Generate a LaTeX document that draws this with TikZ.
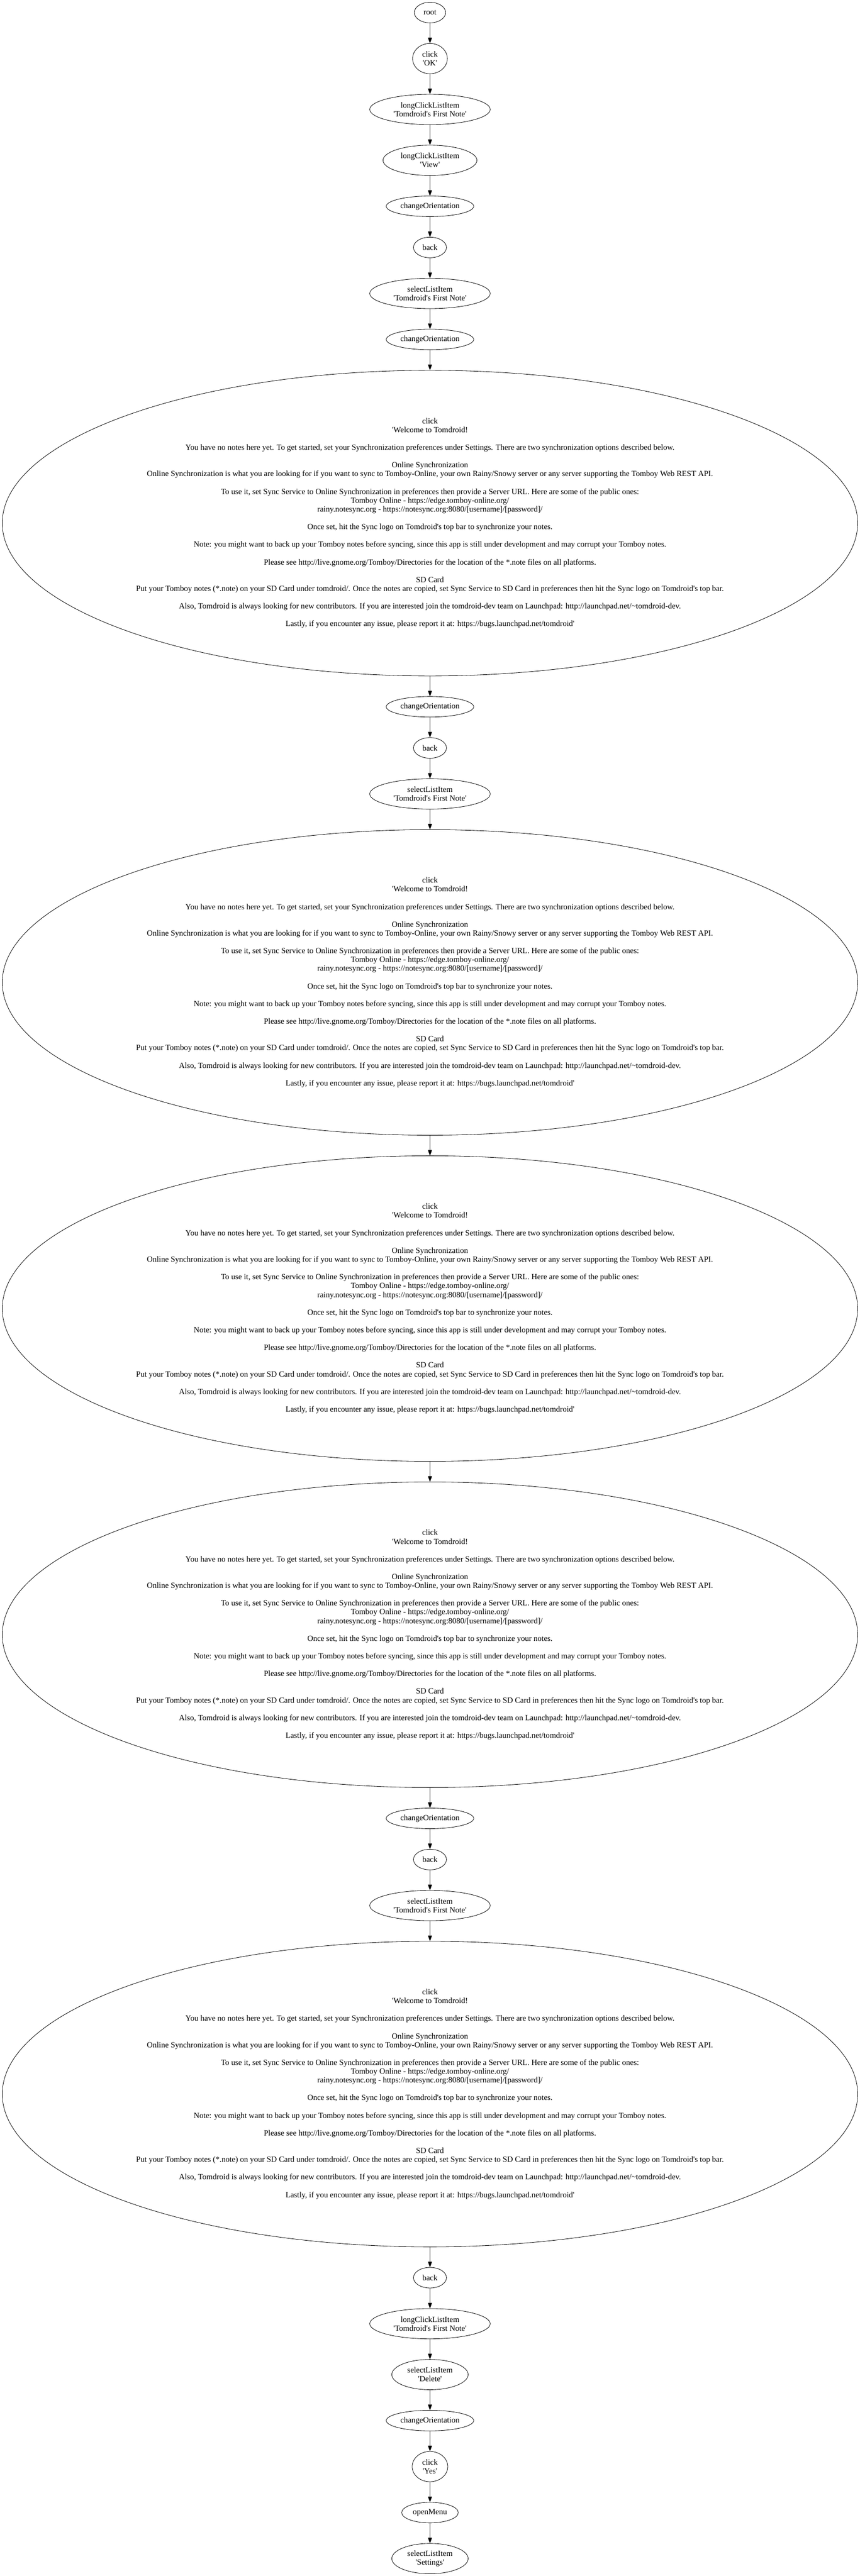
\documentclass[tikz,border=0pt]{standalone}
\usepackage{fontspec}
\setmainfont{Liberation Serif}
\usetikzlibrary{shapes.geometric,positioning,arrows.meta}
\newcommand{\sq}{\textquotesingle}
\newcommand{\gvfont}{\fontsize{14pt}{15.43pt}\selectfont}
\newcommand{\welcome}{click\\
\sq Welcome to Tomdroid!\\[15.43pt]
You have no notes here yet. To get started, set your Synchronization preferences under Settings. There are two synchronization options described below.\\[15.43pt]
Online Synchronization\\
Online Synchronization is what you are looking for if you want to sync to Tomboy-Online, your own Rainy/Snowy server or any server supporting the Tomboy Web REST API.\\[15.43pt]
To use it, set Sync Service to Online Synchronization in preferences then provide a Server URL. Here are some of the public ones:\\
Tomboy Online - https://edge.tomboy-online.org/\\
rainy.notesync.org - https://notesync.org:8080/[username]/[password]/\\[15.43pt]
Once set, hit the Sync logo on Tomdroid\sq s top bar to synchronize your notes.\\[15.43pt]
Note: you might want to back up your Tomboy notes before syncing, since this app is still under development and may corrupt your Tomboy notes.\\[15.43pt]
Please see http://live.gnome.org/Tomboy/Directories for the location of the *.note files on all platforms.\\[15.43pt]
SD Card\\
Put your Tomboy notes (*.note) on your SD Card under tomdroid/. Once the notes are copied, set Sync Service to SD Card in preferences then hit the Sync logo on Tomdroid\sq s top bar.\\[15.43pt]
Also, Tomdroid is always looking for new contributors. If you are interested join the tomdroid-dev team on Launchpad: http://launchpad.net/\textasciitilde tomdroid-dev.\\[15.43pt]
Lastly, if you encounter any issue, please report it at: https://bugs.launchpad.net/tomdroid\sq}
\begin{document}
\begin{tikzpicture}[
  nd/.style={ellipse, draw, line width=0.75pt, inner sep=-400pt, outer sep=0pt, align=center, font=\gvfont},
  one/.style={nd, minimum height=36pt},
  two/.style={nd, minimum height=53pt},
  big/.style={nd, minimum width=1496.5pt, minimum height=534.7pt},
  node distance=36pt,
  edge/.style={-{Triangle[length=10pt,width=7pt]}, line width=0.75pt}
]
\useasboundingbox (0,0) rectangle (1504.5pt,-4507.5pt);
\node[one, minimum width=54.75pt] (n1) at (752.25pt,-22pt) {root};
\node[two, minimum width=60.75pt, below=of n1] (n2) {click\\\sq OK\sq};
\node[two, minimum width=210.75pt, below=of n2] (n3) {longClickListItem\\\sq Tomdroid\sq s First Note\sq};
\node[two, minimum width=164.25pt, below=of n3] (n4) {longClickListItem\\\sq View\sq};
\node[one, minimum width=153pt, below=of n4] (n5) {changeOrientation};
\node[one, minimum width=57.75pt, below=of n5] (n6) {back};
\node[two, minimum width=210.75pt, below=of n6] (n7) {selectListItem\\\sq Tomdroid\sq s First Note\sq};
\node[one, minimum width=153pt, below=of n7] (n8) {changeOrientation};
\node[big, below=of n8] (n9) {\welcome};
\node[one, minimum width=153pt, below=of n9] (n10) {changeOrientation};
\node[one, minimum width=57.75pt, below=of n10] (n11) {back};
\node[two, minimum width=210.75pt, below=of n11] (n12) {selectListItem\\\sq Tomdroid\sq s First Note\sq};
\node[big, below=of n12] (n13) {\welcome};
\node[big, below=of n13] (n14) {\welcome};
\node[big, below=of n14] (n15) {\welcome};
\node[one, minimum width=153pt, below=of n15] (n16) {changeOrientation};
\node[one, minimum width=57.75pt, below=of n16] (n17) {back};
\node[two, minimum width=210.75pt, below=of n17] (n18) {selectListItem\\\sq Tomdroid\sq s First Note\sq};
\node[big, below=of n18] (n19) {\welcome};
\node[one, minimum width=57.75pt, below=of n19] (n20) {back};
\node[two, minimum width=210.75pt, below=of n20] (n21) {longClickListItem\\\sq Tomdroid\sq s First Note\sq};
\node[two, minimum width=133.5pt, below=of n21] (n22) {selectListItem\\\sq Delete\sq};
\node[one, minimum width=153pt, below=of n22] (n23) {changeOrientation};
\node[two, minimum width=62.25pt, below=of n23] (n24) {click\\\sq Yes\sq};
\node[one, minimum width=99pt, below=of n24] (n25) {openMenu};
\node[two, minimum width=133.5pt, below=of n25] (n26) {selectListItem\\\sq Settings\sq};
\foreach \a/\b in {1/2,2/3,3/4,4/5,5/6,6/7,7/8,8/9,9/10,10/11,11/12,12/13,13/14,14/15,15/16,16/17,17/18,18/19,19/20,20/21,21/22,22/23,23/24,24/25,25/26}
  \draw[edge] (n\a) -- (n\b);
\end{tikzpicture}
\end{document}
